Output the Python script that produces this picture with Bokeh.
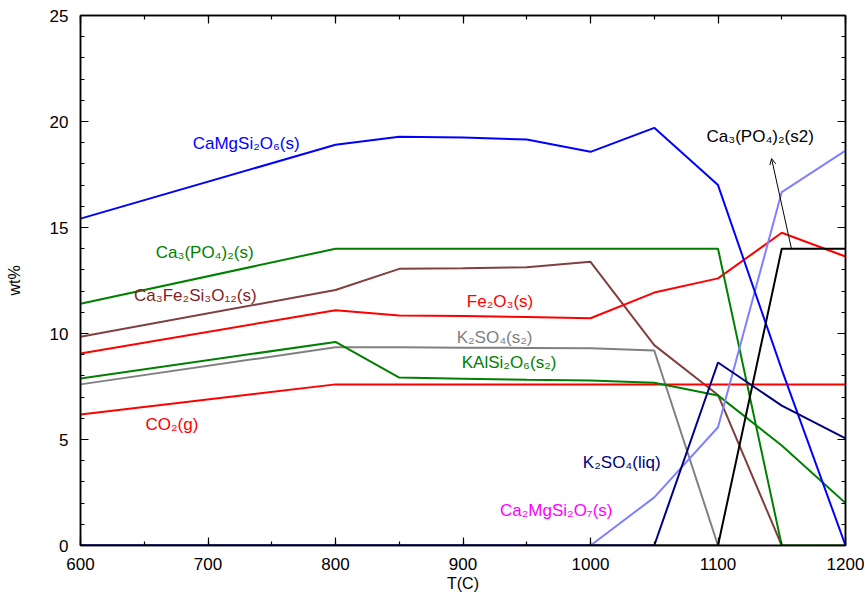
from bokeh.plotting import figure
from bokeh.models import Range1d, LinearAxis, Arrow, OpenHead
from bokeh.core.properties import value
from bokeh.embed import file_html
from bokeh.resources import INLINE

temps = [600, 800, 850, 900, 950, 1000, 1050, 1100, 1150, 1200]

camgsi2o6 = [15.42, 18.9, 19.28, 19.25, 19.15, 18.57, 19.7, 17.0, 8.3, 0.0]
ca3po42_s = [11.4, 14.0, 14.0, 14.0, 14.0, 14.0, 14.0, 14.0, 0.0, 0.0]
ca3fe2si3o12 = [9.85, 12.05, 13.05, 13.08, 13.12, 13.38, 9.45, 7.1, 0.0, 0.0]
fe2o3 = [9.06, 11.1, 10.85, 10.82, 10.78, 10.72, 11.93, 12.6, 14.75, 13.63]
k2so4_s2 = [7.6, 9.35, 9.35, 9.33, 9.32, 9.3, 9.2, 0.0, 0.0, 0.0]
kalsi2o6_s2 = [7.88, 9.6, 7.92, 7.87, 7.82, 7.78, 7.68, 7.08, 4.72, 2.0]
co2_g = [6.18, 7.6, 7.6, 7.6, 7.6, 7.6, 7.6, 7.6, 7.6, 7.6]
k2so4_liq = [0.0, 0.0, 0.0, 0.0, 0.0, 0.0, 0.0, 8.63, 6.6, 5.05]
ca2mgsi2o7 = [0.0, 0.0, 0.0, 0.0, 0.0, 0.0, 2.27, 5.58, 16.67, 18.63]
ca3po42_s2 = [0.0, 0.0, 0.0, 0.0, 0.0, 0.0, 0.0, 0.0, 14.0, 14.0]

series = [
    (k2so4_s2, "#808080"),
    (ca3fe2si3o12, "#804040"),
    (co2_g, "#ff0000"),
    (fe2o3, "#ff0000"),
    (kalsi2o6_s2, "#008000"),
    (ca3po42_s, "#008000"),
    (ca2mgsi2o7, "#8080ff"),
    (camgsi2o6, "#0000ff"),
    (ca3po42_s2, "#000000"),
    (k2so4_liq, "#000080"),
]

label_texts = ["CaMgSi₂O₆(s)", "Ca₃(PO₄)₂(s)", "Ca₃Fe₂Si₃O₁₂(s)", "Fe₂O₃(s)",
               "K₂SO₄(s₂)", "KAlSi₂O₆(s₂)", "CO₂(g)", "K₂SO₄(liq)",
               "Ca₂MgSi₂O₇(s)", "Ca₃(PO₄)₂(s2)"]
label_x = [688, 659, 642, 903, 895, 899, 651, 994, 929, 1091]
label_y = [18.96, 13.8, 11.8, 11.5, 9.8, 8.63, 5.7, 3.9, 1.65, 19.3]
label_colors = ["#0000ff", "#008000", "#7f1f1f", "#ff0000", "#808080",
                "#008000", "#ff0000", "#000080", "#ff00ff", "#000000"]

FONT = "Liberation Sans"

p = figure(width=864, height=598, output_backend="svg", toolbar_location=None,
           x_range=Range1d(600, 1200), y_range=Range1d(0, 25),
           min_border_left=80, min_border_right=19, min_border_top=15,
           min_border_bottom=53)
p.grid.visible = False
p.outline_line_color = "black"
p.outline_line_width = 1.5
p.background_fill_color = "white"

for ys, c in series:
    p.line(temps, ys, line_color=c, line_width=2)

p.text(x=label_x, y=label_y, text=label_texts, text_color=label_colors,
       text_font=value(FONT), text_font_size="17px",
       text_baseline="middle", text_align="left")

p.add_layout(Arrow(end=OpenHead(size=6, line_width=1, line_color="black"),
                   x_start=1157.6, y_start=14.0, x_end=1142.0, y_end=18.25,
                   line_width=1, line_color="black"))


def style_axis(ax, show_labels=True):
    ax.axis_line_color = "black"
    ax.axis_line_width = 1.5
    ax.major_tick_in = 8
    ax.major_tick_out = 0
    ax.minor_tick_in = 4
    ax.minor_tick_out = 0
    ax.major_tick_line_color = "black"
    ax.minor_tick_line_color = "black"
    ax.major_tick_line_width = 1.2
    ax.minor_tick_line_width = 1.2
    ax.major_label_text_font = FONT
    ax.major_label_text_font_size = "17px"
    ax.major_label_text_color = "black" if show_labels else None
    ax.axis_label_text_font = FONT
    ax.axis_label_text_font_size = "16px"
    ax.axis_label_text_font_style = "normal"
    ax.axis_label_text_color = "black"


p.xaxis.ticker.desired_num_ticks = 6
p.xaxis[0].ticker.num_minor_ticks = 2
p.yaxis[0].ticker.num_minor_ticks = 5
style_axis(p.xaxis[0])
style_axis(p.yaxis[0])
p.xaxis[0].axis_label = "T(C)"
p.yaxis[0].axis_label = "wt%"
p.xaxis[0].major_label_standoff = 12
p.yaxis[0].major_label_standoff = 12
p.xaxis[0].axis_label_standoff = 2
p.yaxis[0].axis_label_standoff = 24

top = LinearAxis()
right = LinearAxis()
top.ticker = p.xaxis[0].ticker
right.ticker = p.yaxis[0].ticker
style_axis(top, False)
style_axis(right, False)
top.major_label_standoff = 0
right.major_label_standoff = 0
p.add_layout(top, "above")
p.add_layout(right, "right")

open("out.html", "w").write(file_html(p, INLINE))
